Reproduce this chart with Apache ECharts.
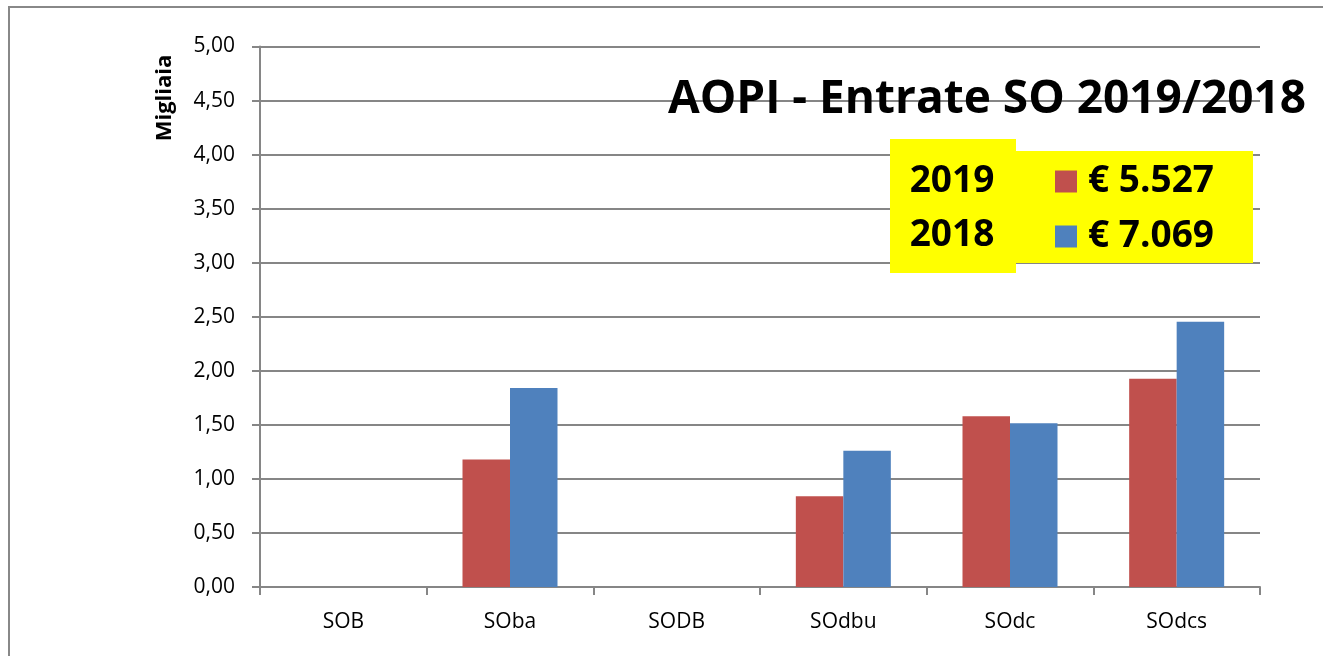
<!DOCTYPE html>
<html><head><meta charset="utf-8">
<script src="https://cdn.jsdelivr.net/npm/echarts@6/dist/echarts.min.js"></script>
<style>html,body{margin:0;padding:0;background:#fff}#c{width:1323px;height:656px}</style>
</head><body><div id="c"></div>
<script>
const categories = ['SOB', 'SOba', 'SODB', 'SOdbu', 'SOdc', 'SOdcs'];
const values2019 = [0, 1.18, 0, 0.84, 1.58, 1.927];
const values2018 = [0, 1.84, 0, 1.26, 1.515, 2.454];
const seriesNames = ['2019', '2018'];
const totals = {'2019': '€ 5.527', '2018': '€ 7.069'};
const yTicks = [0, 0.5, 1, 1.5, 2, 2.5, 3, 3.5, 4, 4.5, 5];

const chart = echarts.init(document.getElementById('c'));
const font = 'Open Sans, Noto Sans, sans-serif';
chart.setOption({
  animation: false,
  backgroundColor: '#fff',
  grid: {left: 260, right: 63, top: 46.5, bottom: 69, containLabel: false},
  graphic: [
    {type: 'rect', shape: {x: 9, y: 7, width: 1400, height: 700}, style: {fill: 'none', stroke: '#888', lineWidth: 2}, z: -10},
    {type: 'rect', shape: {x: 890, y: 139, width: 126, height: 134}, style: {fill: '#ffff00'}, z: 5},
    {type: 'rect', shape: {x: 1015, y: 151, width: 238, height: 112}, style: {fill: '#ffff00'}, z: 5},
    {type: 'text', x: 952, y: 181, style: {text: seriesNames[0], font: 'bold 37px ' + font, fill: '#000', textAlign: 'center', textVerticalAlign: 'middle'}, z: 6},
    {type: 'text', x: 952, y: 235, style: {text: seriesNames[1], font: 'bold 37px ' + font, fill: '#000', textAlign: 'center', textVerticalAlign: 'middle'}, z: 6},
    {type: 'text', x: 987, y: 100, style: {text: 'AOPI - Entrate SO 2019/2018', font: 'bold 46px ' + font, fill: '#000', textAlign: 'center', textVerticalAlign: 'middle'}, z: 6},
    {type: 'text', x: 165, y: 98, rotation: Math.PI / 2, style: {text: 'Migliaia', font: 'bold 22px ' + font, fill: '#000', textAlign: 'center', textVerticalAlign: 'middle'}, z: 6}
  ],
  legend: {
    orient: 'vertical', left: 1055, top: 163, itemWidth: 22, itemHeight: 22, itemGap: 18,
    icon: 'rect', z: 10, padding: 0,
    itemStyle: {borderWidth: 0},
    formatter: n => totals[n],
    textStyle: {fontFamily: font, fontWeight: 'bold', fontSize: 37, color: '#000', padding: [4, 0, 0, 6]}
  },
  xAxis: {
    type: 'category', data: categories,
    axisLine: {lineStyle: {color: '#868686', width: 2}},
    axisTick: {show: true, length: 8, alignWithLabel: false, lineStyle: {color: '#868686', width: 2}},
    axisLabel: {fontFamily: font, fontSize: 21, color: '#000', margin: 25}
  },
  yAxis: {
    type: 'value', min: 0, max: 5, interval: 0.5,
    axisLine: {show: true, lineStyle: {color: '#868686', width: 2}},
    axisTick: {show: true, length: 8, lineStyle: {color: '#868686', width: 2}},
    splitLine: {lineStyle: {color: '#868686', width: 2}},
    axisLabel: {fontFamily: font, fontSize: 21, color: '#000', margin: 25,
      formatter: v => v.toFixed(2).replace('.', ',')}
  },
  series: [
    {name: seriesNames[0], type: 'bar', data: values2019, barGap: '0%', barCategoryGap: '43%',
     itemStyle: {color: '#c0504d', borderWidth: 0}},
    {name: seriesNames[1], type: 'bar', data: values2018, barGap: '0%', barCategoryGap: '43%',
     itemStyle: {color: '#4f81bd', borderWidth: 0}}
  ]
});
</script></body></html>
